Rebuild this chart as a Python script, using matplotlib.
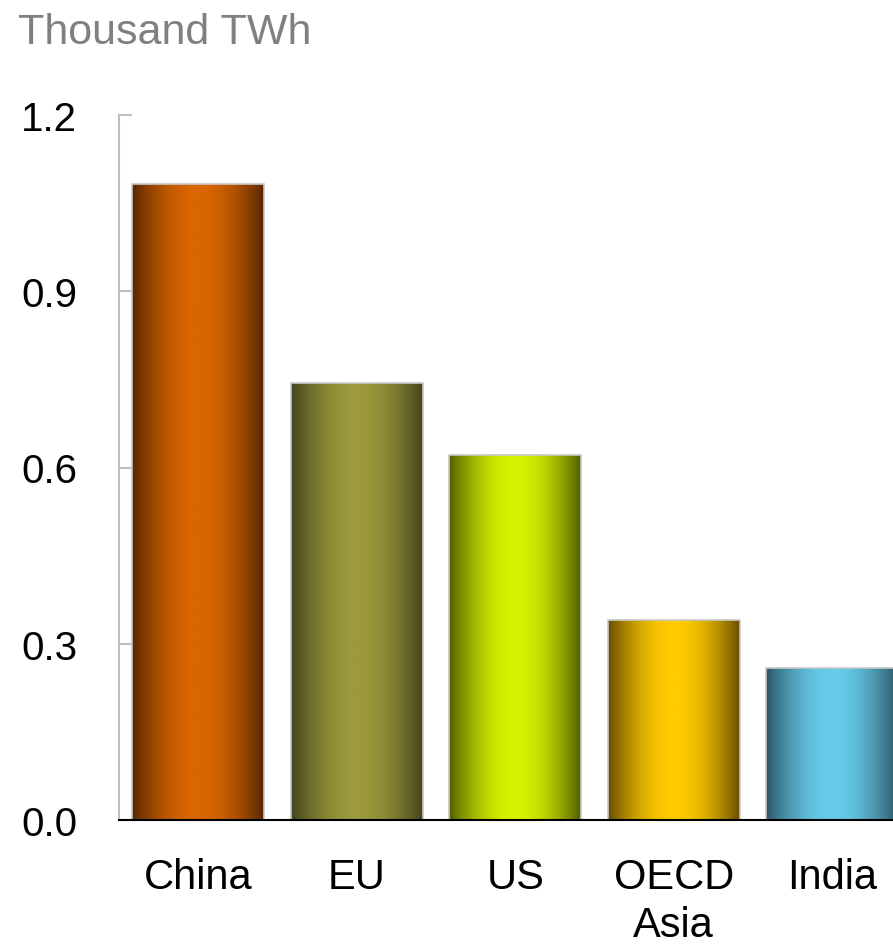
import numpy as np
import matplotlib
matplotlib.use("Agg")
import matplotlib.pyplot as plt
from matplotlib.colors import LinearSegmentedColormap

# data
regions = ["China", "EU", "US", "OECD\nAsia", "India"]
values = [1.083, 0.744, 0.621, 0.340, 0.259]
yticks = [0.0, 0.3, 0.6, 0.9, 1.2]
# (edge colour, centre colour) for each bar gradient
shades = [("#572600", "#da6600"),
          ("#42421a", "#9c9a3c"),
          ("#525c00", "#d6f400"),
          ("#664c00", "#ffcc00"),
          ("#2b5363", "#66cceb")]

plt.rcParams['font.family'] = ['Liberation Sans', 'DejaVu Sans']

fig = plt.figure(figsize=(8.93, 9.45), dpi=100)
# axes runs a bit past the right edge, India bar gets clipped like the original
ax = fig.add_axes([119 / 893, 1 - 821 / 945, 792.5 / 893, 705 / 945])

x = np.arange(len(regions))
bars = ax.bar(x, values, width=0.83, facecolor="none", edgecolor="#c8c8c8",
              linewidth=1.2, zorder=3)

# horizontal gradient: dark at the sides, bright in the middle
xs = np.linspace(0, 1, 256)
prof = np.sin(np.pi * xs) ** 0.9
for b, (dark, light) in zip(bars, shades):
    cmap = LinearSegmentedColormap.from_list("g", [dark, light])
    x0, w, h = b.get_x(), b.get_width(), b.get_height()
    im = ax.imshow(prof[np.newaxis, :], cmap=cmap, vmin=0, vmax=1,
                   extent=[x0, x0 + w, 0, h], aspect="auto", zorder=2)
    im.set_clip_path(b)

ax.set_xlim(-0.5, 4.5)
ax.set_ylim(0, 1.2)
ax.set_yticks(yticks)
ax.set_yticklabels([f"{v:.1f}" for v in yticks])
ax.set_xticks(x)
ax.set_xticklabels(regions, linespacing=1.25)

for s in ["top", "right"]:
    ax.spines[s].set_visible(False)
ax.spines["left"].set_color("#c0c0c0")
ax.spines["left"].set_linewidth(1.5)
ax.spines["bottom"].set_color("black")
ax.spines["bottom"].set_linewidth(1.5)
ax.spines["bottom"].set_zorder(4)

ax.tick_params(axis="y", direction="in", length=9, width=1.5, color="#c0c0c0",
               labelsize=29, pad=30)
ax.tick_params(axis="x", length=0, labelsize=30, pad=27)

fig.text(18 / 893, 1 - 33 / 945, "Thousand TWh", color="#808080",
         fontsize=31, va="center", ha="left")

fig.savefig("out.png", dpi=100)
